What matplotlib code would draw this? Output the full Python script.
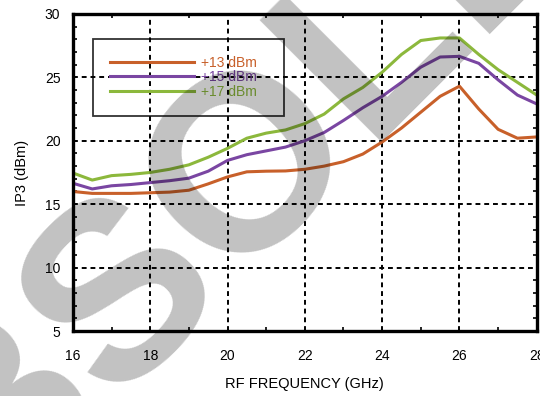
import numpy as np
import matplotlib.pyplot as plt
from matplotlib.ticker import MultipleLocator

plt.rcParams['font.family'] = ['Liberation Sans', 'DejaVu Sans']

freq = [16, 16.5, 17, 17.5, 18, 18.5, 19, 19.5, 20, 20.5, 21, 21.5, 22,
        22.5, 23, 23.5, 24, 24.5, 25, 25.5, 26, 26.5, 27, 27.5, 28]
ip3_13 = [16.0, 15.85, 15.85, 15.85, 15.9, 15.95, 16.1, 16.6, 17.15, 17.55, 17.6, 17.62, 17.75,
          18.0, 18.35, 18.95, 19.9, 21.0, 22.25, 23.5, 24.3, 22.5, 20.9, 20.2, 20.3]
ip3_15 = [16.65, 16.2, 16.45, 16.55, 16.7, 16.85, 17.05, 17.6, 18.45, 18.9, 19.2, 19.5, 20.0,
          20.65, 21.6, 22.6, 23.5, 24.6, 25.8, 26.6, 26.65, 26.1, 24.8, 23.6, 22.9]
ip3_17 = [17.46, 16.9, 17.25, 17.35, 17.5, 17.75, 18.1, 18.7, 19.4, 20.2, 20.6, 20.85, 21.35,
          22.1, 23.3, 24.2, 25.4, 26.8, 27.9, 28.1, 28.1, 26.8, 25.6, 24.6, 23.6]
labels = ['+13 dBm', '+15 dBm', '+17 dBm']
colors = ['#c8602a', '#7a46a2', '#8cb83c']

fig = plt.figure(figsize=(5.4, 3.96), dpi=100)
ax = fig.add_axes([0.135, 0.164, 0.859, 0.801])
ax.set_facecolor('none')

# watermark on top: translucent black acts like a multiply with light gray
fig.text(0.532, 0.660, 'OBSOLETE', fontsize=180, fontweight='bold', color='black',
         alpha=0.245, rotation=45, ha='center', va='center', rotation_mode='anchor',
         zorder=10)

for y, lab, c in zip([ip3_13, ip3_15, ip3_17], labels, colors):
    ax.plot(freq, y, color=c, linewidth=2.2, label=lab)

ax.set_xlim(16, 28)
ax.set_ylim(5, 30)
ax.xaxis.set_major_locator(MultipleLocator(2))
ax.xaxis.set_minor_locator(MultipleLocator(1))
ax.yaxis.set_major_locator(MultipleLocator(5))
ax.yaxis.set_minor_locator(MultipleLocator(1))
ax.tick_params(which='both', direction='in', top=True, right=True, labelsize=10)
ax.tick_params(which='major', length=0)
ax.tick_params(which='minor', length=3, width=1.2)
ax.tick_params(axis='x', pad=13)
ax.tick_params(axis='y', pad=9)
ax.grid(which='major', color='black', linestyle=(0, (2.5, 2)), linewidth=1.4)
for s in ax.spines.values():
    s.set_linewidth(2.4)

ax.set_xlabel('RF FREQUENCY (GHz)', fontsize=10.5, labelpad=10)
ax.set_ylabel('IP3 (dBm)', fontsize=10.5, labelpad=11)

leg = ax.legend(loc='upper left', bbox_to_anchor=(0.0431, 0.5, 0.4116, 0.421), mode='expand',
                borderaxespad=0, fontsize=10, frameon=True, fancybox=False,
                edgecolor='black', facecolor='none', handlelength=6.1, handletextpad=0.5,
                labelspacing=0.05, borderpad=1.2, labelcolor='linecolor')
leg.get_frame().set_linewidth(1.3)

fig.savefig('out.png', dpi=100)
